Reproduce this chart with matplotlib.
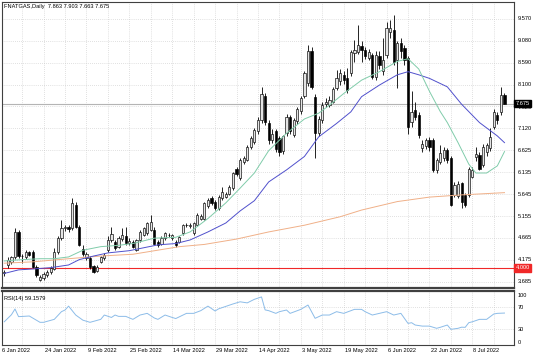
import numpy as np
import matplotlib.pyplot as plt

# ---------------------------------------------------------------
# Daily NATGAS candles, 6 Jan - mid Jul 2022, with 3 moving averages + RSI(14)
# ---------------------------------------------------------------

opens = [3.88, 4.06, 4.12, 4.23, 4.80, 4.27, 4.24, 4.34, 4.36, 4.01, 3.73, 3.77, 3.83, 3.90, 3.98, 4.36, 4.66,
         4.88, 4.92, 4.88, 5.40, 4.92, 4.42, 4.22, 4.21, 4.03, 3.93, 4.13, 4.21, 4.40, 4.62, 4.58, 4.46, 4.64,
         4.70, 4.55, 4.58, 4.40, 4.62, 4.73, 4.77, 4.85, 4.84, 4.58, 4.54, 4.66, 4.73, 4.66, 4.58, 4.58, 4.77,
         4.95, 4.93, 4.77, 4.96, 5.10, 5.10, 5.37, 5.55, 5.48, 5.33, 5.55, 5.59, 5.66, 5.78, 6.20, 6.00, 6.37,
         6.41, 6.71, 6.82,
         7.05, 7.30, 7.85, 7.25, 6.85, 7.05, 6.90, 6.62, 7.01, 7.38, 6.98, 7.28, 7.50, 7.85, 8.13, 8.85,
         7.83, 7.01, 7.31, 7.66, 7.65, 7.72, 8.02, 8.17, 8.31, 8.24, 8.35, 8.80, 8.84, 8.97, 8.87, 8.70,
         8.76, 8.28, 8.75, 8.40, 8.76, 9.28, 9.32, 8.65, 9.03, 8.91, 8.69, 7.27, 7.53, 7.42, 6.67, 6.72,
         6.86, 6.86, 6.19, 6.37, 6.45, 6.63, 6.45, 5.63, 5.60, 5.89, 5.63, 5.63, 6.04, 6.48, 6.52, 6.30,
         6.60, 6.67, 7.16, 7.42, 7.49, 7.863]
highs = [3.95, 4.23, 4.27, 4.88, 4.85, 4.31, 4.40, 4.38, 4.40, 4.05, 3.84, 3.90, 3.95, 4.03, 4.43, 4.70, 5.07,
         4.95, 4.96, 5.55, 5.46, 4.96, 4.50, 4.35, 4.25, 4.06, 4.05, 4.26, 4.32, 4.70, 4.92, 4.62, 4.70, 4.88,
         4.92, 4.66, 4.62, 4.65, 4.84, 4.92, 5.02, 5.18, 4.90, 4.62, 4.70, 4.80, 4.78, 4.76, 4.62, 4.72, 4.98,
         5.00, 4.99, 5.02, 5.22, 5.20, 5.47, 5.55, 5.60, 5.52, 5.62, 5.81, 5.70, 5.85, 6.15, 6.25, 6.45, 6.50,
         6.75, 6.95, 7.12,
         7.38, 8.05, 7.92, 7.30, 7.10, 7.10, 6.95, 6.98, 7.45, 7.42, 7.35, 7.60, 7.85, 8.40, 8.99, 8.95,
         7.90, 7.40, 7.70, 7.80, 7.85, 8.05, 8.43, 8.45, 8.40, 8.48, 8.88, 9.10, 9.44, 9.08, 8.95, 8.90,
         8.80, 8.85, 8.85, 9.14, 9.51, 9.55, 9.66, 9.08, 9.15, 8.98, 8.75, 7.95, 7.70, 7.48, 6.85, 6.90,
         6.92, 6.90, 6.45, 6.75, 6.70, 6.68, 6.50, 5.92, 5.95, 5.92, 5.68, 6.26, 6.26, 6.70, 6.58, 6.78,
         6.80, 7.12, 7.55, 7.48, 8.05, 7.903]
lows = [3.82, 4.00, 4.08, 4.20, 4.22, 4.10, 4.20, 4.25, 4.00, 3.80, 3.69, 3.72, 3.80, 3.86, 3.95, 4.30, 4.62,
        4.82, 4.80, 4.85, 4.88, 4.48, 4.25, 4.18, 3.98, 3.88, 3.90, 4.10, 4.18, 4.36, 4.58, 4.40, 4.43, 4.60,
        4.50, 4.50, 4.44, 4.37, 4.58, 4.70, 4.74, 4.82, 4.52, 4.47, 4.50, 4.62, 4.68, 4.62, 4.47, 4.55, 4.74,
        4.90, 4.88, 4.74, 4.93, 5.06, 5.07, 5.33, 5.40, 5.30, 5.30, 5.52, 5.56, 5.62, 5.75, 6.05, 5.96, 6.33,
        6.38, 6.66, 6.78,
        7.00, 7.25, 7.20, 6.78, 6.80, 6.58, 6.50, 6.55, 6.95, 7.00, 6.93, 7.22, 7.45, 7.80, 8.08, 8.00,
        6.45, 6.95, 7.25, 7.60, 7.60, 7.68, 7.98, 8.10, 8.12, 7.92, 8.30, 8.60, 8.78, 8.60, 8.68, 8.65,
        8.22, 8.20, 8.45, 8.32, 8.70, 9.15, 8.55, 8.02, 8.70, 8.55, 7.00, 7.15, 7.30, 6.90, 6.60, 6.65,
        6.62, 6.15, 6.12, 6.32, 6.40, 6.35, 5.37, 5.58, 5.55, 5.33, 5.35, 5.58, 6.00, 6.40, 6.18, 6.25,
        6.50, 6.62, 7.10, 7.22, 7.42, 7.663]
closes = [3.90, 4.17, 4.23, 4.80, 4.27, 4.25, 4.36, 4.28, 4.02, 3.84, 3.80, 3.86, 3.91, 4.00, 4.36, 4.66, 4.88,
          4.90, 4.86, 5.44, 4.92, 4.51, 4.30, 4.30, 4.02, 3.91, 4.02, 4.23, 4.28, 4.62, 4.76, 4.43, 4.66, 4.73,
          4.55, 4.60, 4.47, 4.62, 4.80, 4.88, 4.99, 5.03, 4.54, 4.51, 4.66, 4.77, 4.74, 4.73, 4.51, 4.69, 4.95,
          4.96, 4.95, 4.99, 5.18, 5.15, 5.44, 5.52, 5.44, 5.33, 5.59, 5.70, 5.66, 5.81, 6.11, 6.10, 6.41, 6.45,
          6.71, 6.90, 7.08,
          7.31, 7.90, 7.27, 6.85, 7.00, 6.65, 6.58, 6.95, 7.38, 7.05, 7.30, 7.55, 7.80, 8.35, 8.85, 8.05,
          7.01, 7.34, 7.64, 7.70, 7.75, 8.00, 8.25, 8.35, 8.20, 7.98, 8.84, 8.88, 8.99, 8.88, 8.73, 8.84,
          8.28, 8.76, 8.55, 8.65, 9.36, 9.36, 8.61, 9.03, 8.85, 8.65, 7.15, 7.49, 7.38, 6.97, 6.78, 6.86,
          6.70, 6.19, 6.41, 6.56, 6.63, 6.41, 5.40, 5.85, 5.88, 5.48, 5.40, 6.22, 6.19, 6.55, 6.22, 6.71,
          6.75, 6.93, 7.49, 7.31, 7.87, 7.675]

# moving averages at a few bars
green_bars = [0, 5, 10, 14, 18, 22, 27, 32, 36, 42, 48, 52, 57, 62, 66, 70, 74, 79, 84, 88, 91, 95, 100,
              105, 110, 113, 116, 119, 122, 124, 127, 130, 132, 135, 138, 140]
green_ma = [4.15, 4.18, 4.20, 4.20, 4.24, 4.39, 4.47, 4.50, 4.54, 4.66, 4.68, 4.80, 5.10, 5.45, 5.78, 6.12,
            6.62, 7.01, 7.33, 7.46, 7.64, 7.90, 8.20, 8.39, 8.62, 8.68, 8.45, 7.95, 7.50, 7.25, 6.80, 6.32,
            6.12, 6.12, 6.28, 6.60]
blue_bars = [0, 4, 8, 13, 18, 21, 25, 29, 35, 43, 48, 52, 57, 62, 66, 70, 74, 79, 84, 88, 93, 97, 100, 105,
             110, 113, 116, 119, 124, 128, 133, 138, 140]
blue_ma = [3.87, 3.95, 3.97, 4.00, 4.06, 4.18, 4.26, 4.33, 4.38, 4.51, 4.54, 4.62, 4.80, 5.00, 5.27, 5.50,
           5.92, 6.19, 6.49, 6.93, 7.23, 7.49, 7.83, 8.09, 8.32, 8.39, 8.32, 8.24, 8.05, 7.66, 7.25, 6.95, 6.80]
orange_bars = [0, 8, 18, 27, 36, 49, 56, 65, 74, 84, 94, 100, 110, 119, 128, 140]
orange_ma = [4.10, 4.13, 4.20, 4.26, 4.30, 4.47, 4.52, 4.64, 4.80, 4.95, 5.14, 5.29, 5.48, 5.58, 5.63, 5.68]

rsi_bars = [0, 2, 3, 4, 7, 10, 11, 14, 16, 17, 18, 20, 22, 24, 27, 28, 30, 31, 32, 34, 36, 38, 40, 42, 43,
            45, 47, 48, 51, 53, 55, 57, 59, 60, 64, 66, 68, 70, 72, 73, 74, 76, 77, 79, 80, 83, 85, 87, 89,
            91, 93, 95, 98, 100, 101, 103, 105, 107, 109, 111, 113, 114, 115, 117, 119, 121, 122, 124, 125,
            127, 128, 129, 130, 131, 133, 135, 137, 138, 140]
rsi_vals = [43, 56, 66.7, 52.5, 53.7, 42, 42, 47.5, 61.7, 64.8, 72, 55.5, 46, 42, 47.5, 55.5, 51, 55.5, 53,
            53, 47.5, 55.5, 58.6, 50, 47.5, 55.5, 51, 49, 58.6, 58.6, 63.6, 72, 63, 67, 76, 80, 78, 84.6, 89,
            65, 63.6, 58.6, 61.7, 64.8, 58.6, 66, 74, 49.4, 55.5, 55.5, 61.7, 58.6, 66, 66, 61.7, 55.5, 58.6,
            61.7, 55.5, 58.6, 40, 41.3, 37, 35, 35, 30.9, 32.7, 37, 29, 30.9, 33, 32.7, 41.3, 43, 47.5, 47.5,
            57.4, 58.6, 59.16]

price_ticks = [9.570, 9.080, 8.590, 8.100, 7.620, 7.120, 6.625, 6.135, 5.645, 5.155, 4.665, 4.175, 3.685]
date_labels = ['6 Jan 2022', '24 Jan 2022', '9 Feb 2022', '25 Feb 2022', '14 Mar 2022', '29 Mar 2022',
               '14 Apr 2022', '3 May 2022', '19 May 2022', '6 Jun 2022', '22 Jun 2022', '8 Jul 2022']
last_price = 7.675
level_price = 4.000

W, H = 536, 357
fnt = 'Liberation Sans'
fs = 4.1

fig = plt.figure(figsize=(W/100, H/100), dpi=100)
ax1 = fig.add_axes([2/W, 1-288/H, 512/W, 286.5/H])
ax2 = fig.add_axes([2/W, 1-345/H, 512/W, 54/H])

bars = np.arange(len(closes))
o = np.array(opens)
c = np.array(closes)
up = c >= o
bot = np.minimum(o, c)
hgt = np.maximum(np.abs(c-o), 0.012)

xl = (-0.635, 142.66)
gridkw = dict(color='#c4c4c4', lw=0.5, ls=(0, (1, 2)), zorder=0)
vgrid = np.arange(5, 142, 6)

# main price panel
for v in price_ticks:
    ax1.axhline(v, **gridkw)
for g in vgrid:
    ax1.axvline(g, **gridkw)
ax1.axhline(last_price, color='#b4b4b4', lw=0.8, zorder=1)
ax1.axhline(level_price, color='#f02828', lw=0.8, zorder=1)

ax1.vlines(bars, lows, highs, color='black', lw=0.6, zorder=3)
ax1.bar(bars[up], hgt[up], 0.62, bottom=bot[up], facecolor='#e4e4e4', edgecolor='black', lw=0.45, zorder=4)
ax1.bar(bars[~up], hgt[~up], 0.62, bottom=bot[~up], facecolor='black', edgecolor='black', lw=0.45, zorder=4)

ax1.plot(orange_bars, orange_ma, color='#f0b088', lw=0.7, zorder=5)
ax1.plot(blue_bars, blue_ma, color='#5050cc', lw=0.7, zorder=5)
ax1.plot(green_bars, green_ma, color='#80ccaa', lw=0.7, zorder=5)

ax1.set_xlim(xl)
ax1.set_ylim(3.544, 9.962)
ax1.set_xticks([])
ax1.set_yticks([])

ytr = ax1.get_yaxis_transform()
for v in price_ticks:
    # the 7.620 label sits under the last-price box, as in MT4
    ax1.text(1.007, v - (0.03 if v == 7.620 else 0), '%.3f' % v, transform=ytr, fontsize=fs, family=fnt,
             ha='left', va='center', clip_on=False, zorder=1)
ax1.text(1.003, last_price, '%.3f' % last_price, transform=ytr, fontsize=fs, family=fnt, color='white',
         ha='left', va='center', clip_on=False, zorder=6,
         bbox=dict(boxstyle='square,pad=0.2', fc='black', ec='black'))
ax1.text(1.003, level_price, '%.3f' % level_price, transform=ytr, fontsize=fs, family=fnt, color='white',
         ha='left', va='center', clip_on=False,
         bbox=dict(boxstyle='square,pad=0.25', fc='#f02828', ec='#f02828'))
ax1.text(0.004, 0.982, 'FNATGAS,Daily  7.863 7.903 7.663 7.675', transform=ax1.transAxes, fontsize=fs,
         family=fnt, ha='left', va='center')

# RSI panel
for v in [70, 30]:
    ax2.axhline(v, **gridkw)
for g in vgrid:
    ax2.axvline(g, **gridkw)
ax2.plot(rsi_bars, rsi_vals, color='#8cbce8', lw=0.7, zorder=3)
ax2.set_xlim(xl)
ax2.set_ylim(0, 100)
ax2.set_xticks([])
ax2.set_yticks([])
ax2.text(0.004, 0.86, 'RSI(14) 59.1579', transform=ax2.transAxes, fontsize=fs, family=fnt,
         ha='left', va='center')
ytr2 = ax2.get_yaxis_transform()
for v, lab in [(92, '100'), (70, '70'), (29, '30'), (4, '0')]:
    ax2.text(1.007, v, lab, transform=ytr2, fontsize=fs, family=fnt, ha='left', va='center', clip_on=False)

xtr = ax2.get_xaxis_transform()
for j, lab in enumerate(date_labels):
    ax2.text(-1 + 12*j + 0.3, -0.11, lab, transform=xtr, fontsize=fs, family=fnt, ha='left', va='center',
             clip_on=False)

for ax in (ax1, ax2):
    for s in ax.spines.values():
        s.set_color('#404040')
        s.set_linewidth(0.8)
ax1.spines['bottom'].set_linewidth(1.6)
ax2.spines['top'].set_linewidth(1.6)

fig.savefig('out.png', dpi=100)
